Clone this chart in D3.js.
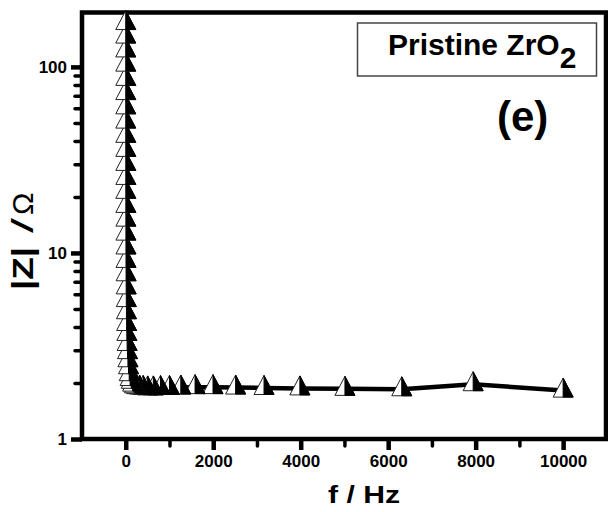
<!DOCTYPE html>
<html>
<head>
  <title>Pristine ZrO2 |Z| vs f</title>
  <script src="https://d3js.org/d3.v7.min.js"></script>
  <style>
    body { margin: 0; background: #fff; }
    text { font-family: "Liberation Sans", Arial, sans-serif; }
  </style>
</head>
<body>
  <div id="chart"></div>
  <script>
// frequency (Hz), high to low, as measured
const freq = [10000, 7943, 6310, 5012, 3981, 3162, 2512, 1995, 1585, 1259,
  1000, 794, 631, 501, 398, 316, 251, 200, 158, 126,
  100, 79.4, 63.1, 50.1, 39.8, 31.6, 25.1, 20, 15.8, 12.6,
  10, 7.94, 6.31, 5.01, 3.98, 3.16, 2.51, 2, 1.58, 1.26,
  1, 0.794, 0.631, 0.501, 0.398, 0.316, 0.251, 0.2, 0.158, 0.126];
// |Z| (ohm)
const zmod = [1.82, 1.97, 1.85, 1.86, 1.87, 1.88, 1.89, 1.90, 1.90, 1.89,
  1.88, 1.88, 1.87, 1.87, 1.88, 1.89, 1.90, 1.92, 1.96, 2.03,
  2.10, 2.23, 2.43, 2.65, 2.93, 3.24, 3.67, 4.15, 4.80, 5.58,
  6.53, 7.68, 9.06, 10.7, 12.7, 15.1, 17.9, 21.3, 25.3, 30.1,
  35.8, 42.6, 50.8, 60.6, 72.3, 86.2, 102.8, 122.6, 145.5, 172];

const xTicks = [0, 2000, 4000, 6000, 8000, 10000];
const xMinor = [1000, 3000, 5000, 7000, 9000];
const yTicks = [1, 10, 100];
const yMinor = [2, 3, 4, 5, 6, 7, 8, 9, 20, 30, 40, 50, 60, 70, 80, 90];

const width = 608, height = 512;
const plotL = 82, plotR = 606, plotT = 12.5, plotB = 439;

const svg = d3.select("#chart").append("svg")
  .attr("width", width)
  .attr("height", height);

const x = d3.scaleLinear().domain([-1000, 10980]).range([plotL, plotR]);
const y = d3.scaleLog().domain([1, 196]).range([plotB, plotT]);

// x axis, major and minor ticks
const gx = svg.append("g")
  .attr("transform", `translate(0,${plotB})`)
  .call(d3.axisBottom(x).tickValues(xTicks).tickSize(11).tickPadding(5).tickFormat(d3.format("d")));
gx.select(".domain").remove();
gx.selectAll("line").attr("stroke", "#000").attr("stroke-width", 4.5);
gx.selectAll("text").attr("font-size", 17).attr("font-weight", "bold").attr("fill", "#000");

const gxm = svg.append("g")
  .attr("transform", `translate(0,${plotB})`)
  .call(d3.axisBottom(x).tickValues(xMinor).tickSize(7).tickFormat(""));
gxm.select(".domain").remove();
gxm.selectAll("line").attr("stroke", "#000").attr("stroke-width", 3.5).attr("stroke-linecap", "round");

// y axis
const gy = svg.append("g")
  .attr("transform", `translate(${plotL},0)`)
  .call(d3.axisLeft(y).tickValues(yTicks).tickSize(11).tickPadding(4).tickFormat(d3.format("d")));
gy.select(".domain").remove();
gy.selectAll("line").attr("stroke", "#000").attr("stroke-width", 4.5);
gy.selectAll("text").attr("font-size", 17).attr("font-weight", "bold").attr("fill", "#000");

const gym = svg.append("g")
  .attr("transform", `translate(${plotL},0)`)
  .call(d3.axisLeft(y).tickValues(yMinor).tickSize(7).tickFormat(""));
gym.select(".domain").remove();
gym.selectAll("line").attr("stroke", "#000").attr("stroke-width", 3.5).attr("stroke-linecap", "round");

// frame
svg.append("rect")
  .attr("x", plotL).attr("y", plotT)
  .attr("width", plotR - plotL).attr("height", plotB - plotT)
  .attr("fill", "none").attr("stroke", "#000").attr("stroke-width", 4.5);

const data = freq.map((f, i) => ({ f: f, z: zmod[i] }));

// connecting line
svg.append("path")
  .datum(data)
  .attr("fill", "none")
  .attr("stroke", "#000")
  .attr("stroke-width", 4.5)
  .attr("d", d3.line().x(d => x(d.f)).y(d => y(d.z)));

// half filled triangles
const mk = svg.append("g").selectAll("g")
  .data(data)
  .enter()
  .append("g")
  .attr("transform", d => `translate(${x(d.f)},${y(d.z)})`);
mk.append("path")
  .attr("d", "M0,-12.5L-10,6.5L10,6.5Z")
  .attr("fill", "#fff").attr("stroke", "#222").attr("stroke-width", 1);
mk.append("path")
  .attr("d", "M0,-12.5L10,6.5L0,6.5Z")
  .attr("fill", "#000").attr("stroke", "#000").attr("stroke-width", 1);

// legend box
svg.append("rect")
  .attr("x", 357.5).attr("y", 23)
  .attr("width", 239).attr("height", 53)
  .attr("fill", "#fff").attr("stroke", "#444").attr("stroke-width", 1.5);
const lt = svg.append("text")
  .attr("x", 388).attr("y", 55)
  .attr("font-size", 30).attr("font-weight", "bold");
lt.append("tspan").text("Pristine ZrO");
lt.append("tspan").attr("dy", 13).text("2");

svg.append("text")
  .attr("x", 497).attr("y", 131)
  .attr("font-family", "Lato, sans-serif")
  .attr("font-size", 42).attr("font-weight", "bold")
  .text("(e)");

// axis titles
svg.append("text")
  .attr("x", 364).attr("y", 503)
  .attr("text-anchor", "middle")
  .attr("font-size", 24).attr("font-weight", "bold")
  .attr("textLength", 72).attr("lengthAdjust", "spacingAndGlyphs")
  .text("f / Hz");

const yt = svg.append("g").attr("transform", "translate(33,290) rotate(-90)");
yt.append("text").attr("x", 0).attr("y", 0)
  .attr("font-size", 30).attr("font-weight", "bold")
  .attr("textLength", 43).attr("lengthAdjust", "spacingAndGlyphs")
  .text("|Z|");
yt.append("text").attr("x", 57).attr("y", 0)
  .attr("font-size", 30)
  .attr("textLength", 15).attr("lengthAdjust", "spacingAndGlyphs")
  .text("/");
yt.append("text").attr("x", 75).attr("y", 0)
  .attr("font-size", 30)
  .text("Ω");
  </script>
</body>
</html>
